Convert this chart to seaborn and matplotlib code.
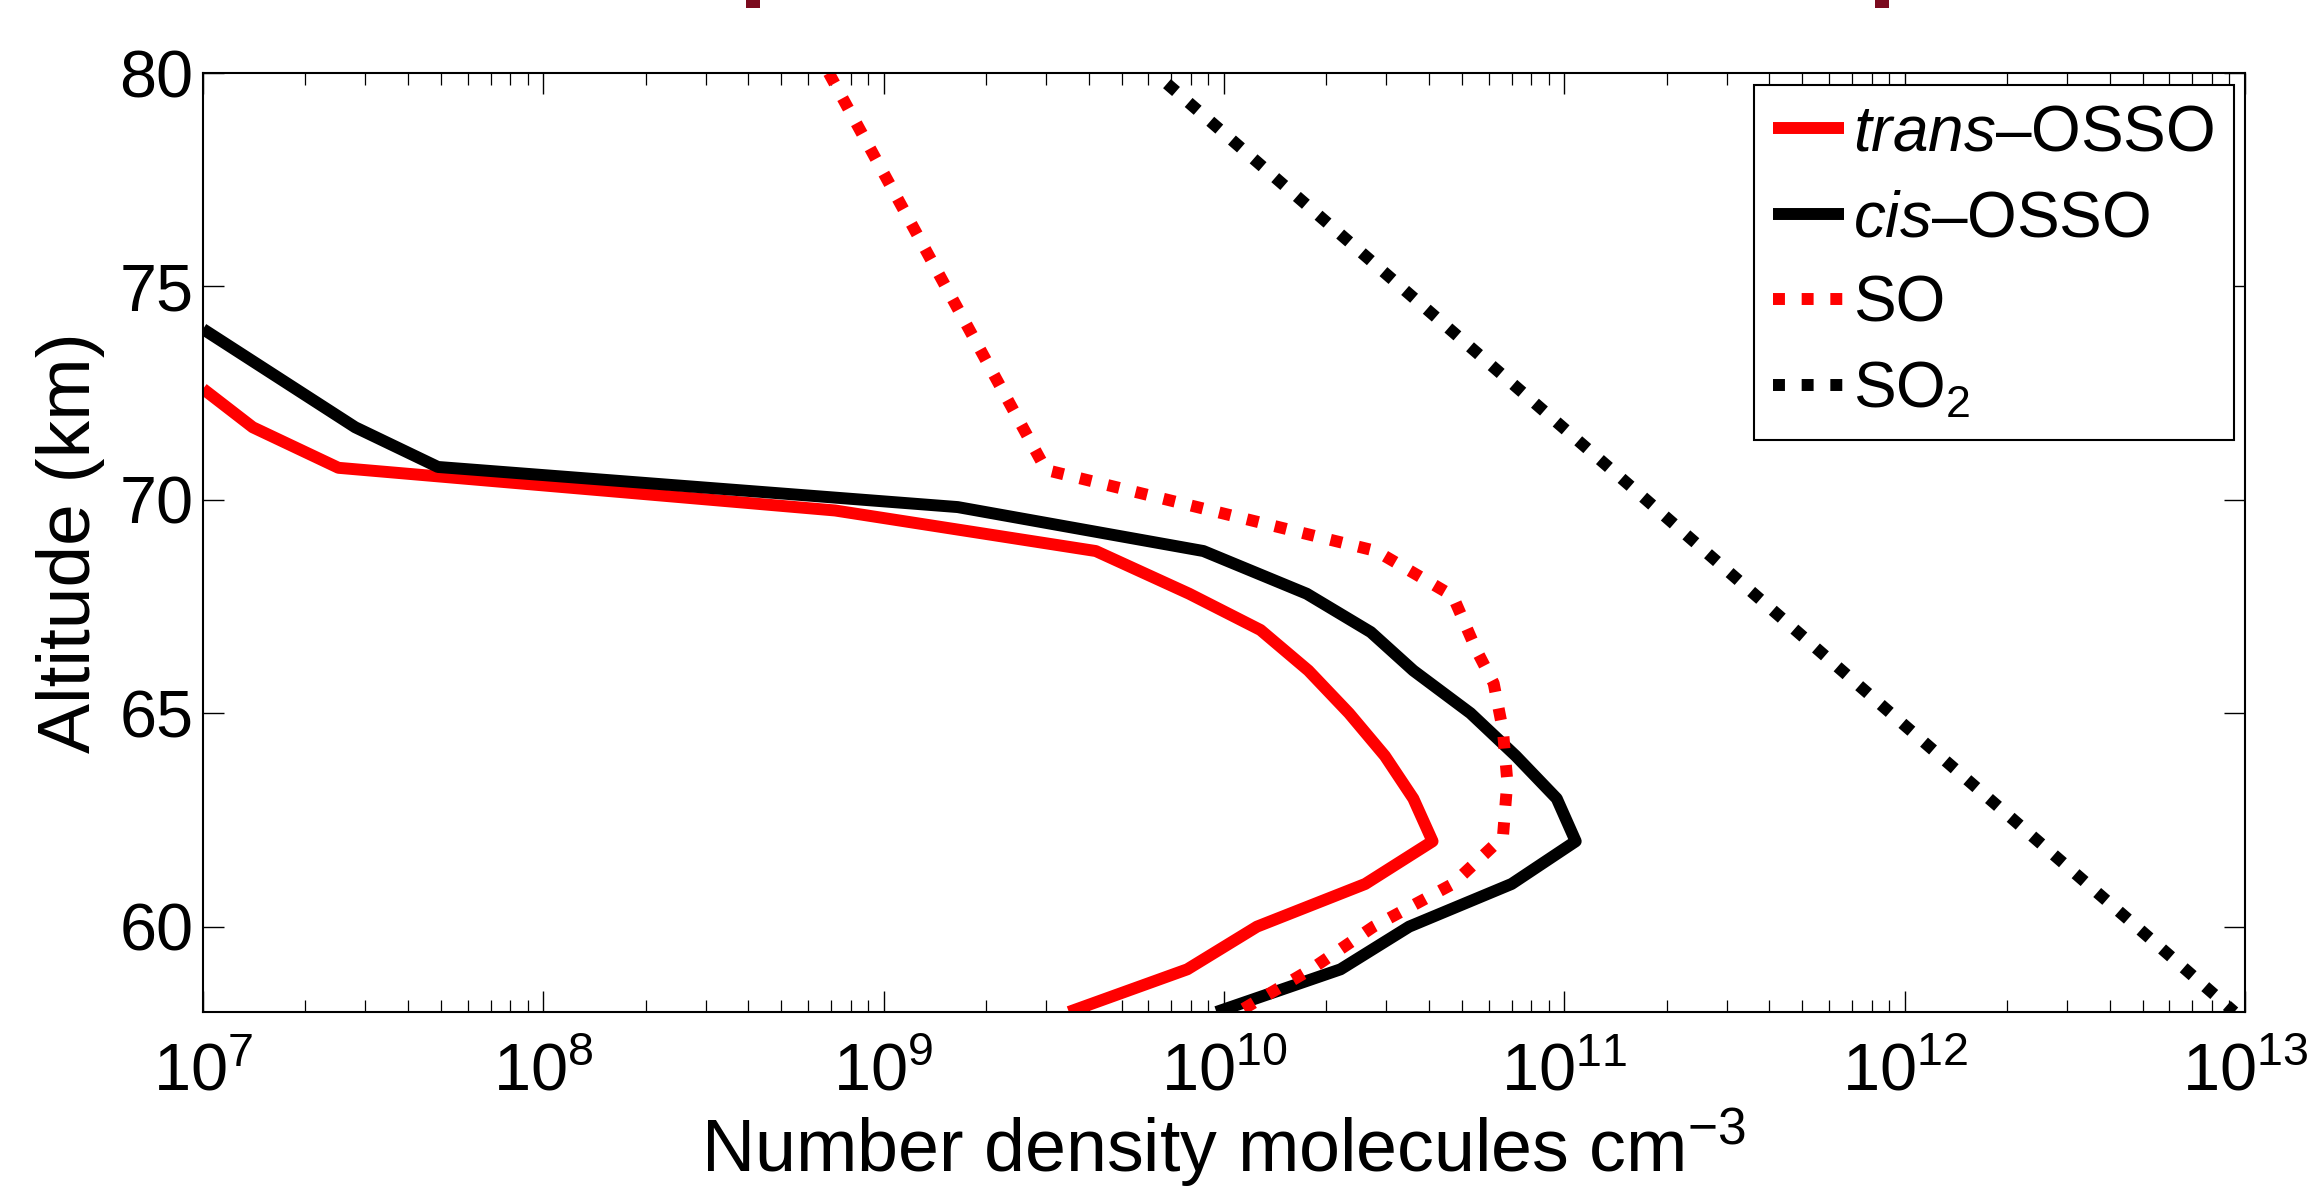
import numpy as np
import pandas as pd
import matplotlib
matplotlib.use("Agg")
import matplotlib.pyplot as plt
from matplotlib.patches import Rectangle
import seaborn as sns

# ---------------- data ----------------
trans_alt = [72.6, 71.7, 70.75, 69.75, 68.8, 67.8, 66.95, 66.0, 65.0, 64.0, 63.0, 62.0, 61.0, 60.0, 59.0, 58.0]
trans_val = [1.0e7, 1.4e7, 2.5e7, 7.2e8, 4.2e9, 7.9e9, 1.28e10, 1.77e10, 2.33e10, 2.97e10, 3.6e10, 4.1e10, 2.6e10, 1.25e10, 7.8e9, 3.5e9]

cis_alt = [74.0, 71.7, 70.77, 69.83, 68.8, 67.8, 66.9, 66.0, 65.0, 64.0, 63.0, 62.0, 61.0, 60.0, 59.0, 58.0]
cis_val = [1.0e7, 2.8e7, 4.9e7, 1.65e9, 8.7e9, 1.75e10, 2.7e10, 3.6e10, 5.3e10, 7.2e10, 9.5e10, 1.08e11, 7.0e10, 3.5e10, 2.2e10, 9.5e9]

so_alt = [80.0, 70.7, 68.8, 67.75, 66.5, 65.7, 64.6, 63.4, 62.1, 61.0, 60.0, 59.0, 58.0]
so_val = [6.9e8, 3.0e9, 2.8e10, 4.7e10, 5.5e10, 6.2e10, 6.6e10, 6.8e10, 6.6e10, 4.7e10, 2.75e10, 1.8e10, 1.1e10]

so2_alt = [79.75, 75.0, 70.0, 65.0, 60.0, 58.0]
so2_val = [6.8e9, 3.3e10, 1.74e11, 9.1e11, 4.8e12, 9.3e12]

series_names = [r"$\mathit{trans}$–OSSO", r"$\mathit{cis}$–OSSO", "SO", r"SO$_2$"]
x_label = r"Number density molecules cm$^{-3}$"
y_label = "Altitude (km)"
y_ticks = [60, 65, 70, 75, 80]

# ---------------- style ----------------
sns.set_style("ticks")
plt.rcParams["font.family"] = ["Liberation Sans", "DejaVu Sans"]
plt.rcParams["mathtext.fontset"] = "custom"
plt.rcParams["mathtext.rm"] = "Liberation Sans"
plt.rcParams["mathtext.it"] = "Liberation Sans:italic"
plt.rcParams["mathtext.bf"] = "Liberation Sans:bold"
plt.rcParams["mathtext.default"] = "regular"
for k in ("text.color", "axes.labelcolor", "xtick.color", "ytick.color", "axes.edgecolor"):
    plt.rcParams[k] = "black"

W, H = 2308, 1195
fig = plt.figure(figsize=(W / 100, H / 100), dpi=100)
ax = fig.add_axes([203 / W, 1 - 1012 / H, (2245 - 203) / W, (1012 - 73) / H])

lw = 8.6
dots = (0, (1.0, 1.4))
specs = [
    (trans_val, trans_alt, "#ff0000", "-"),
    (cis_val, cis_alt, "#000000", "-"),
    (so_val, so_alt, "#ff0000", dots),
    (so2_val, so2_alt, "#000000", dots),
]
for (xv, yv, col, ls), name in zip(specs, series_names):
    df = pd.DataFrame({"density": xv, "alt": yv})
    sns.lineplot(data=df, x="density", y="alt", sort=False, estimator=None,
                 color=col, linewidth=lw, linestyle=ls, label=name, ax=ax,
                 solid_capstyle="butt", dash_capstyle="butt")

ax.set_xscale("log")
ax.set_xlim(1e7, 1e13)
ax.set_ylim(58, 80)
ax.set_yticks(y_ticks)
ax.set_xticks([10.0 ** k for k in range(7, 14)])

ax.tick_params(axis="both", which="major", direction="in", length=15, width=1.0,
               top=True, right=True, labelsize=48, color="black", labelcolor="black")
ax.tick_params(axis="x", which="major", pad=22)
ax.tick_params(axis="y", which="major", pad=7)
ax.tick_params(axis="x", which="minor", direction="in", length=8.5, width=0.9,
               top=True, bottom=True, color="black")
ax.tick_params(axis="y", which="minor", left=False, right=False)

for s in ax.spines.values():
    s.set_linewidth(1.5)
    s.set_color("black")
    s.set_visible(True)

ax.set_xlabel(x_label, fontsize=53, labelpad=1, color="black")
ax.set_ylabel(y_label, fontsize=54, labelpad=10, color="black")

leg = ax.legend(loc="upper right", fontsize=46, frameon=True, fancybox=False,
                framealpha=1, edgecolor="black", handlelength=1.1,
                handletextpad=0.15, labelspacing=0.4, borderaxespad=0.18,
                borderpad=0.3)
leg.get_frame().set_linewidth(1.5)
for t in leg.get_texts():
    t.set_color("black")

# cropped slide-title remnants at the very top
for x0 in (746, 1875):
    fig.add_artist(Rectangle((x0 / W, 1 - 8 / H), 14 / W, 8 / H,
                             transform=fig.transFigure, color="#7b0a1e", lw=0))

fig.savefig("out.png", dpi=100)
